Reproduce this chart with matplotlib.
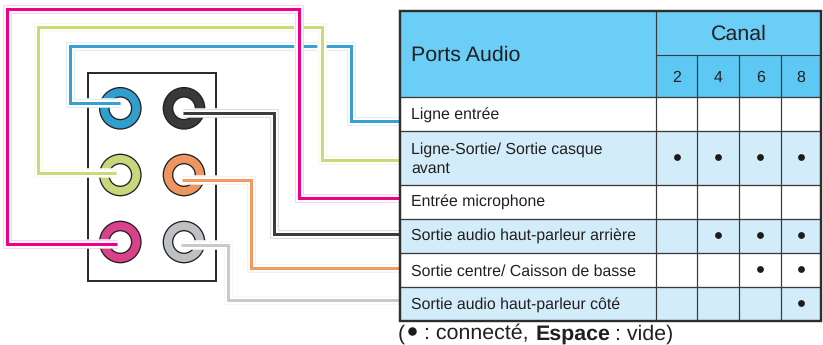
import matplotlib
matplotlib.use("Agg")
import matplotlib.pyplot as plt
from matplotlib.patches import Rectangle, Circle

plt.rcParams['font.family'] = ['Liberation Sans', 'DejaVu Sans']
plt.rcParams['text.hinting'] = 'no_hinting'

# ---- content ----
channels = ['2', '4', '6', '8']
ports = ['Ligne entrée', 'Ligne-Sortie/ Sortie casque\navant', 'Entrée microphone',
         'Sortie audio haut-parleur arrière', 'Sortie centre/ Caisson de basse',
         'Sortie audio haut-parleur côté']
connected = [[0, 0, 0, 0], [1, 1, 1, 1], [0, 0, 0, 0], [0, 1, 1, 1], [0, 0, 1, 1], [0, 0, 0, 1]]
header_title = 'Ports Audio'
canal_title = 'Canal'

# ---- layout (pixels) ----
col_x = [400, 655.7, 697.5, 739.4, 781.3, 821]
row_y = [97, 130.7, 184.5, 218.7, 252.7, 286.7, 321]
row_baselines = [[120], [154, 173.3], [206.7], [241], [276], [310]]
head_top, canal_bot = 10.5, 55
jack_x = [120.3, 184]
jack_y = [108.3, 175, 242]
jack_colors = [['#319FCE', '#3A3937'], ['#C5D87C', '#EE9662'], ['#D9418A', '#BDC1C4']]
wires = [
    ('#C8C9CA', [(181, 245.3), (228.3, 245.3), (228.3, 300.3), (399, 300.3)], 3.0),
    ('#EF9A62', [(181.7, 179.7), (250.7, 179.7), (250.7, 268.3), (399, 268.3)], 3.0),
    ('#3C3C3C', [(183.3, 113), (274, 113), (274, 233.7), (399, 233.7)], 3.0),
    ('#3AA0D0', [(120, 103), (69.7, 103), (69.7, 46), (351, 46), (351, 121.3), (399, 121.3)], 3.0),
    ('#C9DB79', [(115.7, 173.3), (37.7, 173.3), (37.7, 27.3), (322, 27.3), (322, 160.3), (399, 160.3)], 3.0),
    ('#EC008C', [(117, 244), (7.3, 244), (7.3, 9), (299, 9), (299, 198), (399, 198)], 3.0),
]

fig = plt.figure(figsize=(8.23, 3.45), dpi=100)
ax = fig.add_axes([0, 0, 1, 1])
ax.set_xlim(0, 823)
ax.set_ylim(345, 0)
ax.axis('off')
PX = 0.72  # points per pixel

# back panel
ax.add_patch(Rectangle((88.3, 73), 128, 207.7, fc='white', ec='#2E2B2C', lw=2 * PX, zorder=1))

# jacks
for r, y in enumerate(jack_y):
    for c, x in enumerate(jack_x):
        ax.add_patch(Circle((x, y), 20.7, fc=jack_colors[r][c], ec='#231F20', lw=1.3 * PX, zorder=2))
        ax.add_patch(Circle((x, y), 11.3, fc='white', ec='#231F20', lw=1.3 * PX, zorder=3))

# wires
style = dict(solid_joinstyle='miter', solid_capstyle='butt')
for i, (color, pts, lw) in enumerate(wires):
    xs, ys = zip(*pts)
    z = 4 + i * 0.1
    ax.plot(xs, ys, color='white', lw=9.5 * PX, zorder=z, **style)
    ax.plot(xs, ys, color=color, alpha=0.22, lw=8.5 * PX, zorder=z + 0.01, **style)
    ax.plot(xs, ys, color='white', lw=6.8 * PX, zorder=z + 0.02, **style)
    ax.plot(xs, ys, color=color, lw=lw * PX, zorder=z + 0.03, **style)

# table fills
ax.add_patch(Rectangle((col_x[0], head_top), col_x[-1] - col_x[0], row_y[0] - head_top, fc='#6BCEF7', ec='none', zorder=6))
ax.add_patch(Rectangle((col_x[1], canal_bot), col_x[-1] - col_x[1], row_y[0] - canal_bot, fc='#5CC8F3', ec='none', zorder=6))
for i in range(len(ports)):
    fc = '#D3ECFA' if i % 2 else 'white'
    ax.add_patch(Rectangle((col_x[0], row_y[i]), col_x[-1] - col_x[0], row_y[i + 1] - row_y[i], fc=fc, ec='none', zorder=6))

# grid
line = '#3A3A3A'
for y in row_y[:-1]:
    ax.plot([col_x[0], col_x[-1]], [y, y], color=line, lw=1.3 * PX, zorder=7, solid_capstyle='butt')
ax.plot([col_x[1], col_x[-1]], [canal_bot, canal_bot], color=line, lw=1.1 * PX, zorder=7, solid_capstyle='butt')
ax.plot([col_x[1], col_x[1]], [head_top, row_y[-1]], color=line, lw=1.2 * PX, zorder=7, solid_capstyle='butt')
for x in col_x[2:5]:
    ax.plot([x, x], [canal_bot, row_y[-1]], color=line, lw=1.2 * PX, zorder=7, solid_capstyle='butt')
ax.add_patch(Rectangle((col_x[0], head_top), col_x[-1] - col_x[0], row_y[-1] - head_top, fc='none', ec='#2E2E2E', lw=2.4 * PX, zorder=8))

# text
tc = '#231F20'
tx = dict(color=tc, va='baseline', zorder=9)
ax.text(411, 60.7, header_title, fontsize=15.4, ha='left', **tx)
ax.text((col_x[1] + col_x[-1]) / 2, 40, canal_title, fontsize=15.4, ha='center', **tx)
for j, ch in enumerate(channels):
    ax.text((col_x[j + 1] + col_x[j + 2]) / 2, 82, ch, fontsize=11.4, ha='center', **tx)
for i, name in enumerate(ports):
    for part, base in zip(name.split('\n'), row_baselines[i]):
        ax.text(411, base, part, fontsize=11.4, ha='left', **tx)
    for j, on in enumerate(connected[i]):
        if on:
            ax.plot((col_x[j + 1] + col_x[j + 2]) / 2, (row_y[i] + row_y[i + 1]) / 2 - 0.4, 'o', ms=6.8 * PX,
                    color='#1F1B1C', mew=0, zorder=9)

# legend line
ax.text(398, 339.3, '(', fontsize=15.4, ha='left', **tx)
ax.plot(412, 331, 'o', ms=8.5 * PX, color='#1F1B1C', mew=0, zorder=9)
ax.text(424.5, 339.3, ': connecté,', fontsize=15.4, ha='left', **tx)
ax.text(535.5, 339.3, 'Espace', fontsize=15.4, fontweight='bold', ha='left', **tx)
ax.text(615.5, 339.3, ': vide)', fontsize=15.4, ha='left', **tx)

fig.savefig('out.png', dpi=100, facecolor='white')
